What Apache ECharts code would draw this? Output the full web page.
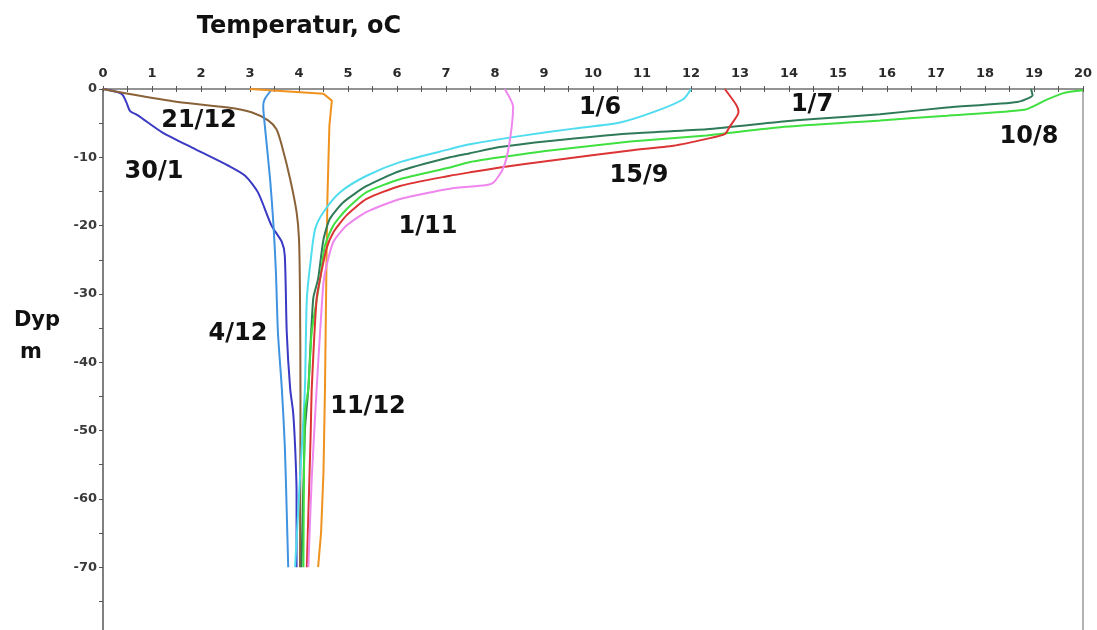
<!DOCTYPE html>
<html><head><meta charset="utf-8">
<script src="https://cdn.jsdelivr.net/npm/echarts@6/dist/echarts.min.js"></script>
<style>html,body{margin:0;padding:0;background:#fff}#c{width:1097px;height:630px}</style>
</head><body><div id="c"></div>
<script>
// [temperature °C, depth m]
const s30_1 = [[0,0],[0.38,-0.7],[0.48,-2],[0.55,-3.2],[0.72,-3.9],[1.2,-6.3],[1.88,-8.8],[2.55,-11.2],[2.9,-12.7],[3.16,-15.1],[3.44,-20],[3.65,-22.4],[3.71,-24.4],[3.75,-35.6],[3.82,-43.9],[3.88,-47.3],[3.92,-52.3],[3.95,-59],[3.95,-70]];
const s21_12 = [[0,0],[0.51,-0.7],[1.53,-1.9],[2.55,-2.7],[3.03,-3.4],[3.37,-4.6],[3.54,-5.9],[3.65,-8.3],[3.82,-13.2],[3.95,-18],[4.0,-22],[4.02,-30],[4.03,-45],[4.02,-70]];
const s4_12 = [[3.45,0],[3.3,-1.5],[3.27,-2.5],[3.31,-5.9],[3.41,-13.2],[3.48,-20],[3.53,-27],[3.57,-35.6],[3.65,-43.9],[3.71,-52.2],[3.75,-62],[3.78,-70]];
const s11_12 = [[3.0,0],[4.5,-0.7],[4.67,-1.7],[4.62,-5.4],[4.58,-16],[4.56,-25.9],[4.53,-43.9],[4.5,-56],[4.45,-65],[4.39,-70]];
const s1_6 = [[12.0,0],[11.84,-1.5],[11.3,-3.2],[10.55,-4.9],[9.6,-5.8],[8.5,-6.9],[7.49,-8.1],[7.08,-8.8],[6.06,-10.7],[5.38,-12.7],[4.84,-15.1],[4.5,-18],[4.33,-20.5],[4.24,-25],[4.16,-30.7],[4.12,-43.9],[4.02,-57],[3.92,-70]];
const s1_7 = [[18.94,0],[18.97,-0.9],[18.66,-1.9],[17.22,-2.7],[15.86,-3.7],[14.5,-4.4],[13.82,-4.8],[12.32,-5.9],[10.76,-6.5],[9.12,-7.6],[8.1,-8.5],[7.49,-9.4],[7.08,-10],[6.06,-12],[5.38,-14.2],[4.9,-16.6],[4.63,-19],[4.5,-22],[4.39,-27.8],[4.29,-30.7],[4.19,-43.9],[4.12,-50],[4.05,-70]];
const s10_8 = [[20,-0.2],[19.6,-0.6],[19.25,-1.6],[18.83,-3.0],[17.22,-3.9],[15.86,-4.6],[13.82,-5.6],[12.32,-6.8],[10.76,-7.7],[9.12,-9.0],[8.1,-10],[7.49,-10.7],[7.08,-11.5],[6.06,-13.2],[5.38,-15.1],[4.97,-17.6],[4.7,-20],[4.53,-22.9],[4.43,-27.8],[4.26,-35.6],[4.19,-43.9],[4.12,-47.3],[4.09,-70]];
const s15_9 = [[12.69,0],[12.93,-2.4],[12.97,-3.4],[12.8,-5.4],[12.69,-6.6],[12.32,-7.3],[11.64,-8.3],[10.76,-9.0],[9.12,-10.5],[8.1,-11.5],[7.49,-12.2],[7.08,-12.7],[6.06,-14.2],[5.38,-16.1],[4.97,-18.5],[4.7,-21],[4.56,-23.4],[4.43,-27.8],[4.36,-30.7],[4.26,-43.9],[4.24,-50],[4.16,-70]];
const s1_11 = [[8.2,0],[8.37,-2.6],[8.34,-5.6],[8.24,-10],[8.14,-12],[7.97,-13.7],[7.8,-14.1],[7.08,-14.6],[6.06,-16.1],[5.38,-18],[4.97,-20],[4.7,-22.4],[4.56,-25.9],[4.5,-28.3],[4.43,-35.6],[4.36,-43.9],[4.26,-57],[4.19,-70]];

const seriesNames = ['30/1','21/12','4/12','11/12','1/6','1/7','10/8','15/9','1/11'];
const seriesData = [s30_1,s21_12,s4_12,s11_12,s1_6,s1_7,s10_8,s15_9,s1_11];
const seriesColors = ['#3a3ac4','#8a6238','#3f93e0','#f0921e','#4fdcee','#2f7a58','#3fe03f','#dc3434','#ee86ee'];
const seriesSmooth = [0.25,0.25,0.25,false,0.25,0.2,0.2,0.2,0.2];

const yLabelValues = [0,-10,-20,-30,-40,-50,-60,-70];
const yTickValues = [0,-5,-10,-15,-20,-25,-30,-35,-40,-45,-50,-55,-60,-65,-70,-75];
const xMin = 0, xMax = 20, yMin = -79.2, yMax = 0;

const chart = echarts.init(document.getElementById('c'), null, {renderer:'canvas'});
const lblFont = {fontFamily:'DejaVu Sans', fontWeight:'bold', fontSize:13, color:'#2a2a2a'};
const axisCol = '#808080';

const series = seriesData.map((d,i)=>({
  type:'line', name:seriesNames[i], data:d, xAxisIndex:0, yAxisIndex:0,
  showSymbol:false, symbol:'none', smooth:seriesSmooth[i],
  lineStyle:{color:seriesColors[i], width:2}, z:3
}));

function txt(t,x,y,size){
  return {type:'text', style:{text:t, x:x, y:y, align:'center', verticalAlign:'middle',
    font:'bold '+size+'px "DejaVu Sans"', fill:'#111'}, z:10};
}

chart.setOption({
  animation:false,
  backgroundColor:'#ffffff',
  grid:{left:103, top:89, width:980, bottom:0, containLabel:false},
  xAxis:[{
    type:'value', position:'top', min:xMin, max:xMax, interval:1,
    axisLine:{show:true, onZero:false, lineStyle:{color:'#707070', width:1.5}},
    axisTick:{show:true, inside:false, length:3, lineStyle:{color:'#555'}},
    minorTick:{show:true, splitNumber:2, length:3, lineStyle:{color:'#555'}},
    axisLabel:Object.assign({margin:9}, lblFont),
    splitLine:{show:false}
  },{
    type:'value', position:'top', min:xMin, max:xMax, interval:1,
    axisLine:{show:false},
    axisTick:{show:true, inside:true, length:3, lineStyle:{color:'#555'}},
    minorTick:{show:true, splitNumber:2, length:3, lineStyle:{color:'#555'}},
    axisLabel:{show:false}, splitLine:{show:false}
  }],
  yAxis:[{
    type:'value', position:'left', min:yMin, max:yMax,
    axisLine:{show:true, onZero:false, lineStyle:{color:axisCol, width:2}},
    axisTick:{show:true, length:4, customValues:yTickValues, lineStyle:{color:'#555'}},
    axisLabel:Object.assign({margin:6, customValues:yLabelValues}, lblFont, {color:'#3a3a3a'}),
    splitLine:{show:false}
  },{
    type:'value', position:'right', min:yMin, max:yMax,
    axisLine:{show:true, onZero:false, lineStyle:{color:'#9a9a9a', width:1.5}},
    axisTick:{show:false}, axisLabel:{show:false}, splitLine:{show:false}
  }],
  series:series,
  graphic:[
    txt('Temperatur, oC',299,27,24),
    txt('Dyp',37,321,21),
    txt('m',31,353,21),
    txt('21/12',199,121,24),
    txt('30/1',154,172,24),
    txt('1/11',428,227,24),
    txt('1/6',600,108,24),
    txt('15/9',639,176,24),
    txt('1/7',812,105,24),
    txt('10/8',1029,137,24),
    txt('4/12',238,334,24),
    txt('11/12',368,407,24)
  ]
});
</script></body></html>
